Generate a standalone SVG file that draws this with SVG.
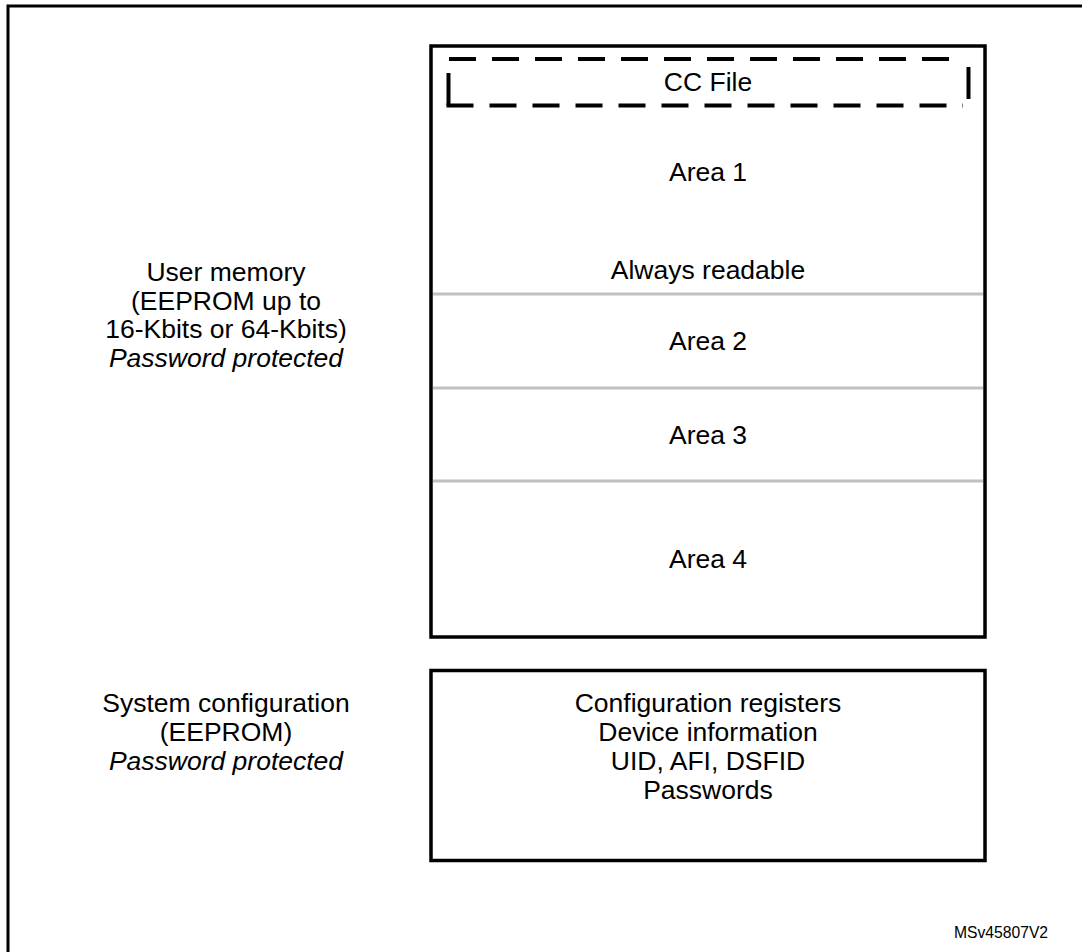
<svg xmlns="http://www.w3.org/2000/svg" width="1082" height="952" viewBox="0 0 1082 952">
  <style>
    text { font-family: "Liberation Sans", Arial, sans-serif; fill: #000; text-anchor: middle; }
    .lbl { font-size: 26.5px; }
    .it { font-style: italic; }
    .ref { font-size: 15.7px; }
    .box { fill: #fff; stroke: #000; stroke-width: 3.5; }
    .sep { stroke: #c0c0c0; stroke-width: 3; }
    .dash { fill: none; stroke: #000; stroke-width: 4; }
  </style>
  <rect width="1082" height="952" fill="#fff"/>
  <!-- figure frame (runs past the right and bottom edges) -->
  <path d="M8 960 V6 H1090" fill="none" stroke="#000" stroke-width="3"/>

  <!-- left-hand captions -->
  <g id="user-memory-caption">
    <text class="lbl" x="226" y="281">User memory</text>
    <text class="lbl" x="226" y="310">(EEPROM up to</text>
    <text class="lbl" x="226" y="338">16-Kbits or 64-Kbits)</text>
    <text class="lbl it" x="226" y="367">Password protected</text>
  </g>
  <g id="system-config-caption">
    <text class="lbl" x="226" y="712">System configuration</text>
    <text class="lbl" x="226" y="741">(EEPROM)</text>
    <text class="lbl it" x="226" y="770">Password protected</text>
  </g>

  <!-- user memory block -->
  <g id="user-memory">
    <rect class="box" x="431" y="46" width="554" height="591"/>
    <line class="sep" x1="433" y1="294" x2="983" y2="294"/>
    <line class="sep" x1="433" y1="388" x2="983" y2="388"/>
    <line class="sep" x1="433" y1="481" x2="983" y2="481"/>
    <text class="lbl" x="708" y="181">Area 1</text>
    <text class="lbl" x="708" y="279">Always readable</text>
    <text class="lbl" x="708" y="350">Area 2</text>
    <text class="lbl" x="708" y="444">Area 3</text>
    <text class="lbl" x="708" y="568">Area 4</text>
  </g>
  <g id="cc-file">
    <line class="dash" x1="449" y1="59" x2="961" y2="59" stroke-dasharray="27 16"/>
    <line class="dash" x1="448.5" y1="73" x2="448.5" y2="105.5"/>
    <line class="dash" x1="446.5" y1="105.5" x2="963" y2="105.5" stroke-dasharray="27 16"/>
    <line class="dash" x1="968.5" y1="67" x2="968.5" y2="99"/>
    <text class="lbl" x="708" y="91">CC File</text>
  </g>

  <!-- system configuration block -->
  <g id="system-config">
    <rect class="box" x="431" y="670.5" width="554" height="190"/>
    <text class="lbl" x="708" y="712">Configuration registers</text>
    <text class="lbl" x="708" y="741">Device information</text>
    <text class="lbl" x="708" y="770">UID, AFI, DSFID</text>
    <text class="lbl" x="708" y="799">Passwords</text>
  </g>

  <g id="connectors"/>

  <text class="ref" x="1001" y="938">MSv45807V2</text>
</svg>
